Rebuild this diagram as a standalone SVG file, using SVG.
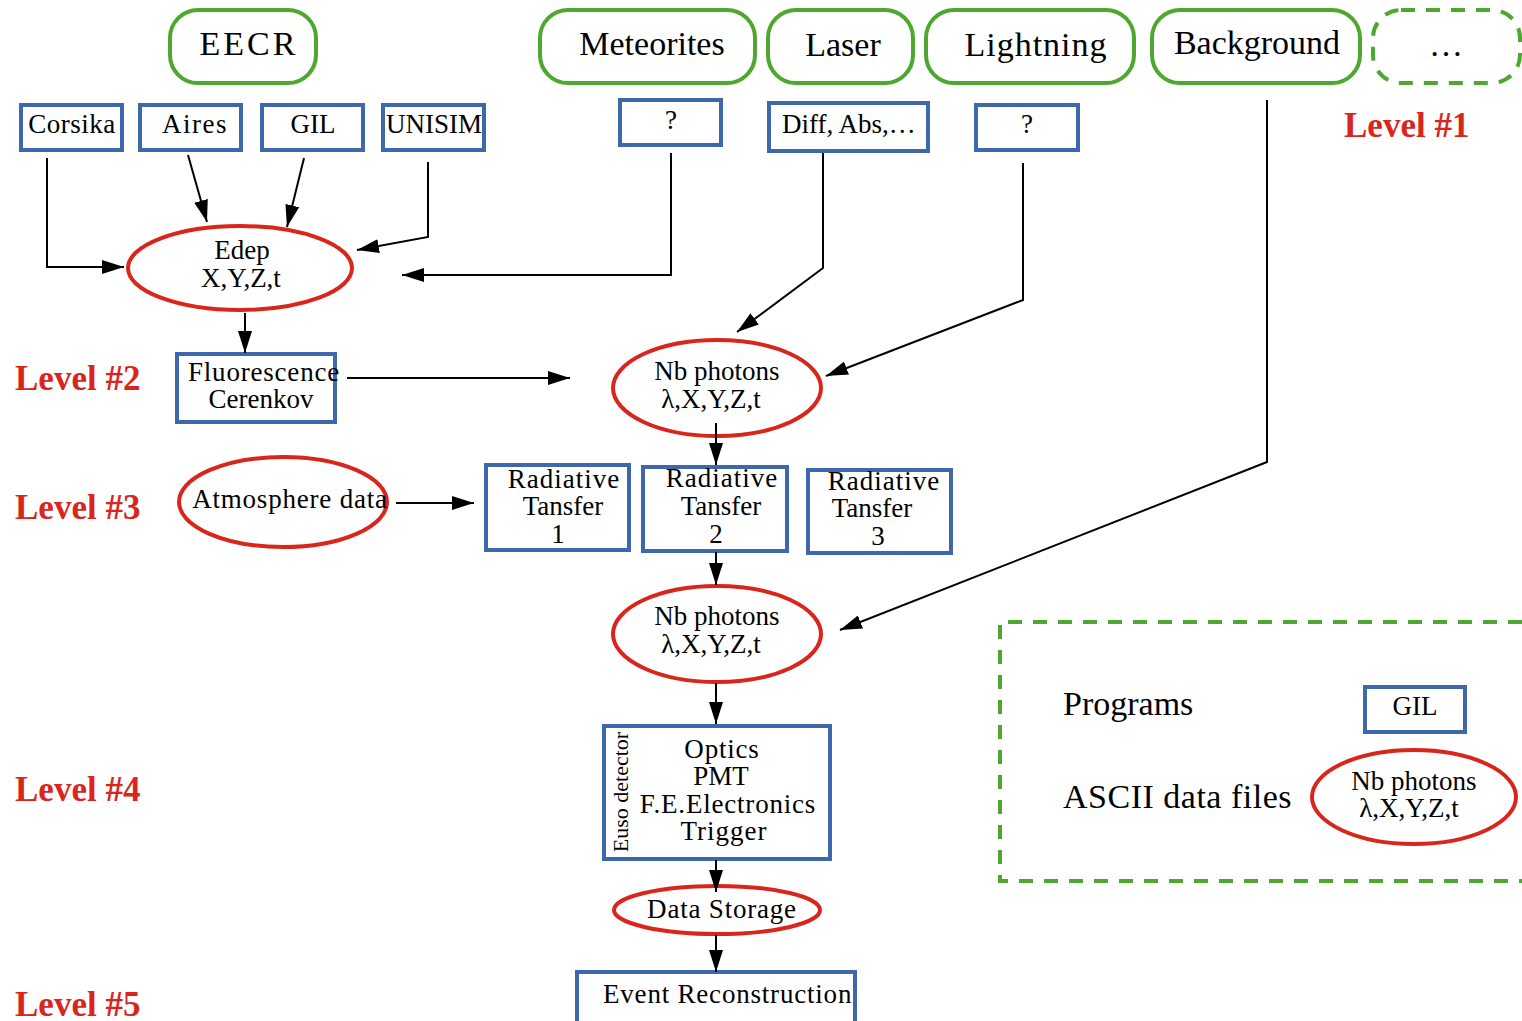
<svg xmlns="http://www.w3.org/2000/svg" width="1522" height="1021" viewBox="0 0 1522 1021">
<defs>
<marker id="arr" viewBox="0 0 22 14" refX="22" refY="7" markerWidth="22" markerHeight="14" orient="auto" markerUnits="userSpaceOnUse">
<path d="M0,0 L22,7 L0,14 z" fill="#000"/>
</marker>
<style>
text{font-family:"Liberation Serif","Times New Roman",serif;fill:#000;}
.src{fill:#fff;stroke:#4ea72e;stroke-width:4;}
.dsh{fill:none;stroke:#4ea72e;stroke-width:4;stroke-dasharray:14,11;}
.prog{fill:#fff;stroke:#3f67ab;stroke-width:4;}
.data{fill:#fff;stroke:#d9261c;stroke-width:4;}
.big{font-size:34px;text-anchor:middle;}
.t{font-size:27px;text-anchor:middle;}
.lvl{font-size:35px;font-weight:bold;fill:#d9261c;}
.c{fill:none;stroke:#000;stroke-width:2;marker-end:url(#arr);}
</style>
</defs>
<rect width="1522" height="1021" fill="#fff"/>

<g id="eecr"><rect class="src" x="170" y="10" width="146" height="73" rx="28"/><text class="big" x="249" y="55" letter-spacing="3">EECR</text></g>
<g id="meteorites"><rect class="src" x="540" y="10" width="215" height="73" rx="28"/><text class="big" x="652" y="55">Meteorites</text></g>
<g id="laser"><rect class="src" x="768" y="10" width="145" height="73" rx="28"/><text class="big" x="843" y="56">Laser</text></g>
<g id="lightning"><rect class="src" x="926" y="10" width="208" height="73" rx="28"/><text class="big" x="1036" y="56" letter-spacing="1">Lightning</text></g>
<g id="background"><rect class="src" x="1152" y="10" width="208" height="73" rx="28"/><text class="big" x="1257" y="54">Background</text></g>
<g id="more"><rect class="dsh" x="1373" y="10" width="147" height="73" rx="28"/><text class="big" x="1446" y="56">…</text></g>

<g id="corsika"><rect class="prog" x="21" y="105" width="101" height="45"/><text class="t" x="72" y="133" letter-spacing="0.5">Corsika</text></g>
<g id="aires"><rect class="prog" x="140" y="105" width="101" height="45"/><text class="t" x="195" y="133" letter-spacing="1.5">Aires</text></g>
<g id="gil"><rect class="prog" x="262" y="105" width="101" height="45"/><text class="t" x="313" y="133">GIL</text></g>
<g id="unisim"><rect class="prog" x="383" y="105" width="101" height="45"/><text class="t" x="434" y="133">UNISIM</text></g>
<g id="q1"><rect class="prog" x="620" y="100" width="101" height="45"/><text class="t" x="671" y="129">?</text></g>
<g id="diff"><rect class="prog" x="769" y="103" width="159" height="48"/><text class="t" x="849" y="133">Diff, Abs,…</text></g>
<g id="q2"><rect class="prog" x="976" y="105" width="102" height="45"/><text class="t" x="1027" y="133">?</text></g>

<text class="lvl" x="1344" y="137">Level #1</text>
<text class="lvl" x="15" y="390">Level #2</text>
<text class="lvl" x="15" y="519">Level #3</text>
<text class="lvl" x="15" y="801">Level #4</text>
<text class="lvl" x="15" y="1016">Level #5</text>

<g id="edep"><ellipse class="data" cx="240" cy="268" rx="112" ry="42"/><text class="t" x="242" y="259">Edep</text><text class="t" x="241" y="287">X,Y,Z,t</text></g>
<g id="fluo"><rect class="prog" x="177" y="354" width="158" height="68"/><text class="t" x="264" y="381" letter-spacing="0.8">Fluorescence</text><text class="t" x="261" y="408">Cerenkov</text></g>
<g id="nb1"><ellipse class="data" cx="717" cy="388" rx="104" ry="48"/><text class="t" x="717" y="380">Nb photons</text><text class="t" x="711" y="408">λ,X,Y,Z,t</text></g>
<g id="atmo"><ellipse class="data" cx="283" cy="502" rx="104" ry="45"/><text class="t" x="290" y="508" letter-spacing="0.8">Atmosphere data</text></g>
<g id="rt1"><rect class="prog" x="486" y="465" width="143" height="85"/><text class="t" x="564" y="488" letter-spacing="1">Radiative</text><text class="t" x="563" y="515">Tansfer</text><text class="t" x="558" y="543">1</text></g>
<g id="rt2"><rect class="prog" x="643" y="467" width="144" height="84"/><text class="t" x="722" y="487" letter-spacing="1">Radiative</text><text class="t" x="721" y="515">Tansfer</text><text class="t" x="716" y="543">2</text></g>
<g id="rt3"><rect class="prog" x="808" y="470" width="143" height="83"/><text class="t" x="884" y="490" letter-spacing="1">Radiative</text><text class="t" x="872" y="517">Tansfer</text><text class="t" x="878" y="545">3</text></g>
<g id="nb2"><ellipse class="data" cx="717" cy="634" rx="104" ry="48"/><text class="t" x="717" y="625">Nb photons</text><text class="t" x="711" y="653">λ,X,Y,Z,t</text></g>
<g id="euso"><rect class="prog" x="604" y="726" width="226" height="133"/><text class="t" x="722" y="758" letter-spacing="0.8">Optics</text><text class="t" x="721" y="785">PMT</text><text class="t" x="728" y="813" letter-spacing="0.8">F.E.Electronics</text><text class="t" x="724" y="840" letter-spacing="1">Trigger</text><text transform="translate(628,792) rotate(-90)" font-size="22" text-anchor="middle">Euso detector</text></g>
<g id="storage"><ellipse class="data" cx="717" cy="910" rx="103" ry="24"/><text class="t" x="722" y="918" letter-spacing="0.8">Data Storage</text></g>
<g id="event"><rect class="prog" x="577" y="972" width="278" height="60"/><text x="603" y="1003" font-size="27" letter-spacing="0.8">Event Reconstruction</text></g>

<g id="legend"><path class="dsh" d="M1522,622 L1000,622 L1000,881 L1522,881" stroke-dasharray="15,11"/><text x="1063" y="715" font-size="34">Programs</text><text x="1063" y="808" font-size="34" letter-spacing="0.5">ASCII data files</text>
<g id="legend-gil"><rect class="prog" x="1365" y="687" width="100" height="45"/><text class="t" x="1415" y="715">GIL</text></g>
<g id="legend-nb"><ellipse class="data" cx="1414" cy="797" rx="102" ry="47"/><text class="t" x="1414" y="790" font-size="26">Nb photons</text><text class="t" x="1409" y="817" font-size="26">λ,X,Y,Z,t</text></g></g>

<g id="connectors">
<path class="c" d="M47,158 L47,267 L124,267"/>
<path class="c" d="M188,155 L207,222"/>
<path class="c" d="M304,158 L287,227"/>
<path class="c" d="M428,162 L428,237 L357,250"/>
<path class="c" d="M671,153 L671,275 L402,275"/>
<path class="c" d="M245,313 L245,353"/>
<path class="c" d="M347,378 L570,378"/>
<path class="c" d="M823,153 L823,268 L737,332"/>
<path class="c" d="M1023,163 L1023,300 L826,376"/>
<path class="c" d="M716,423 L716,465"/>
<path class="c" d="M396,503 L474,503"/>
<path class="c" d="M716,552 L716,585"/>
<path class="c" d="M1267,100 L1267,462 L840,630"/>
<path class="c" d="M716,683 L716,724"/>
<path class="c" d="M716,860 L716,892"/>
<path class="c" d="M716,935 L716,972"/>
</g>
</svg>
